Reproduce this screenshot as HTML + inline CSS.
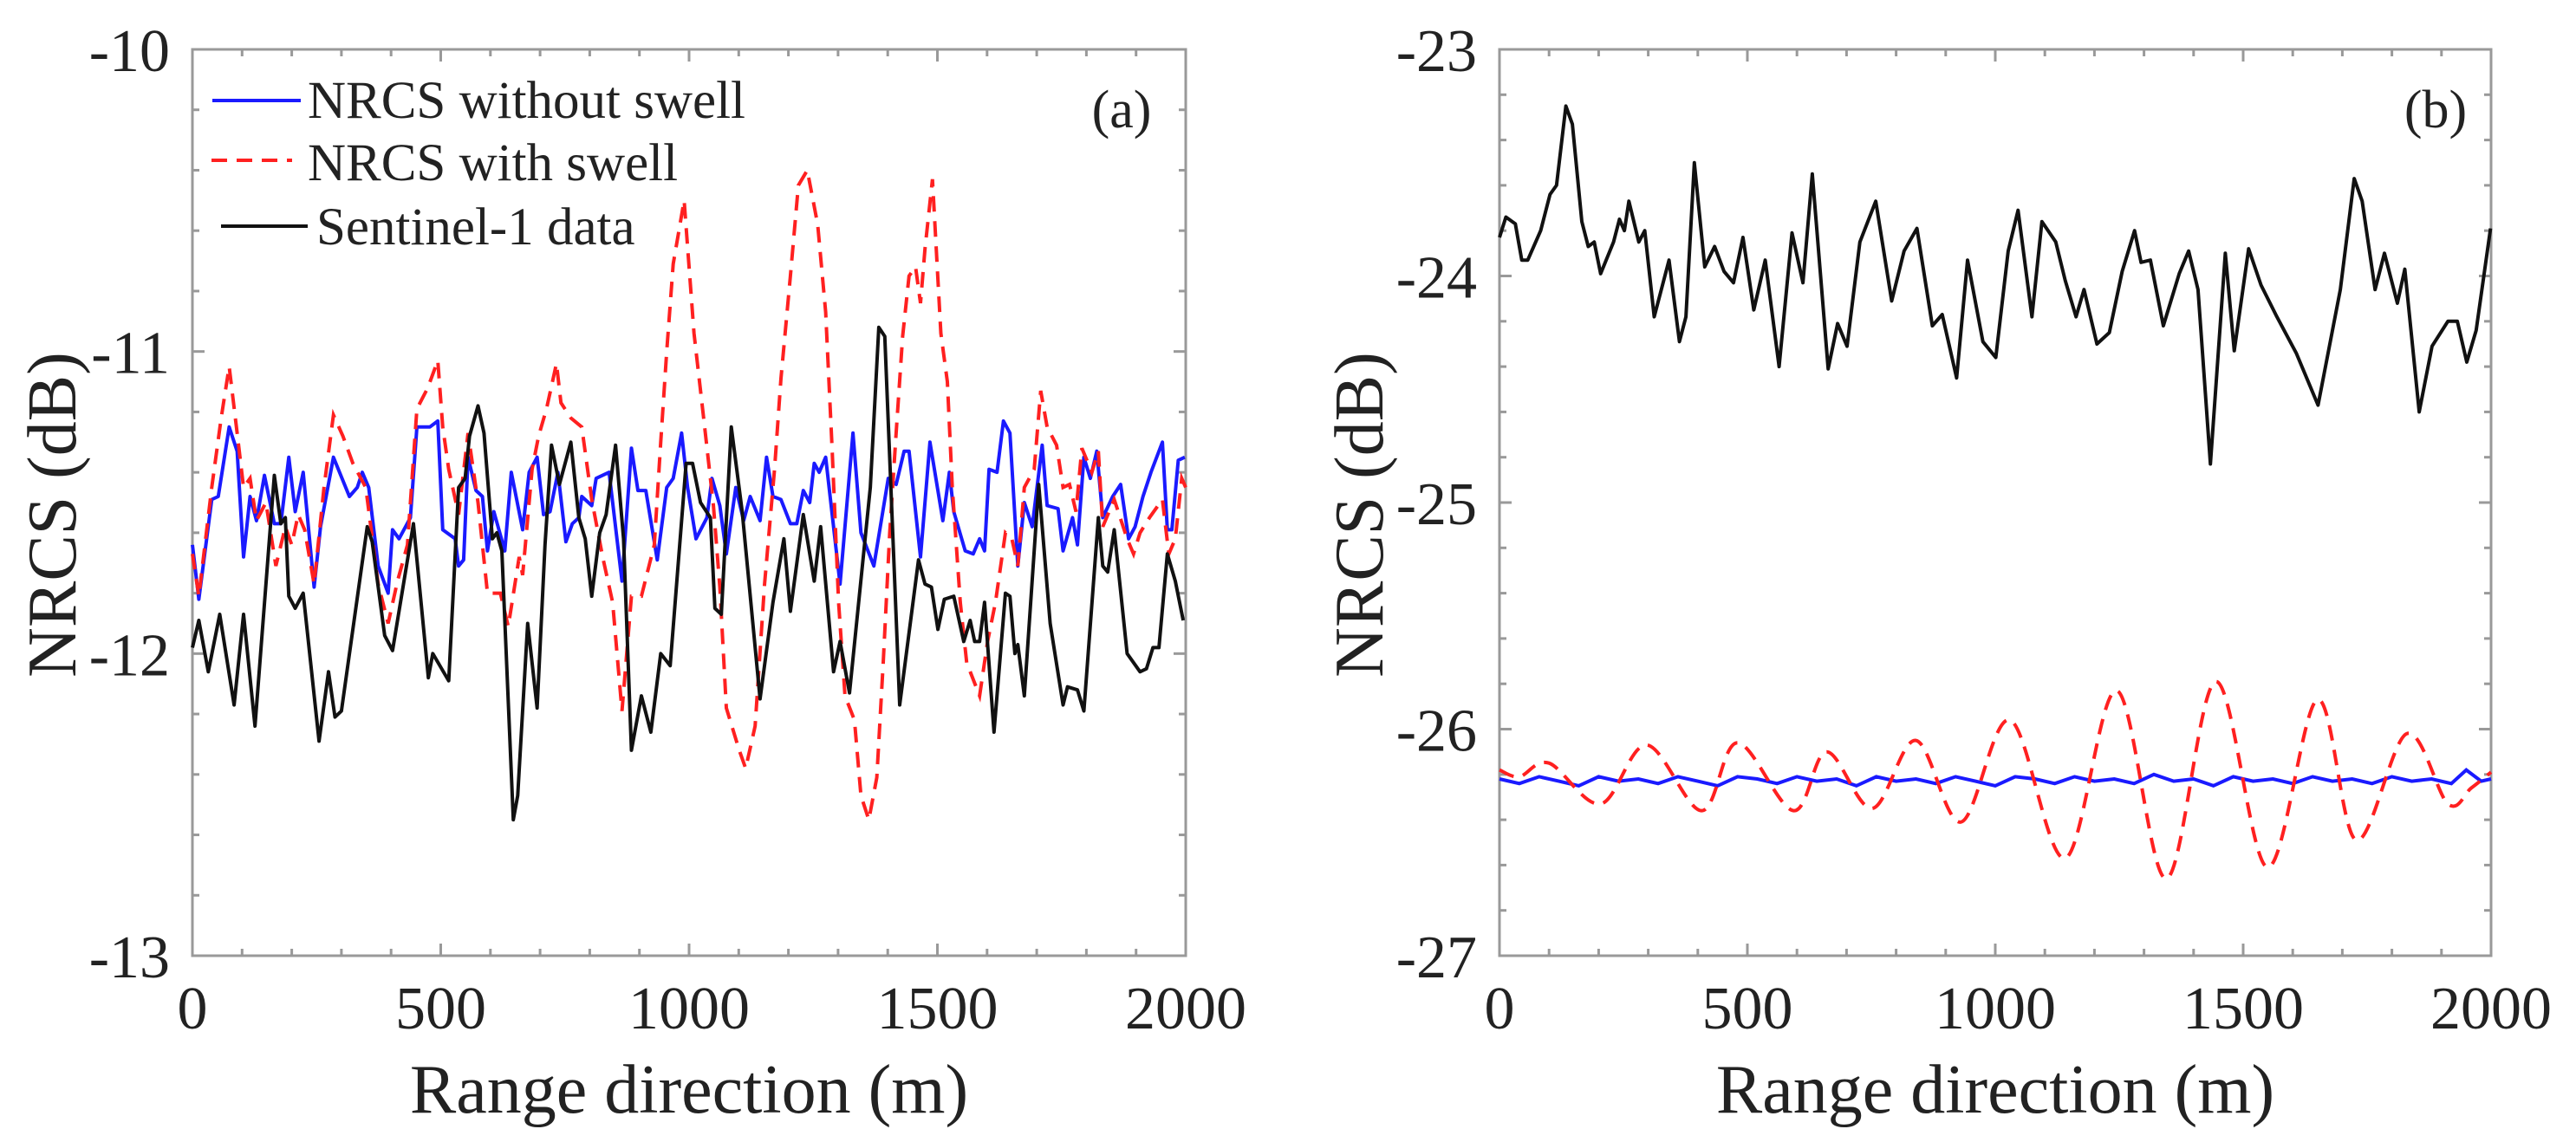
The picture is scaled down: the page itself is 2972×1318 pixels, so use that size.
<!DOCTYPE html>
<html><head><meta charset="utf-8">
<style>
html,body{margin:0;padding:0;background:#fff;}
svg{display:block;}
text{font-family:"Liberation Serif",serif;fill:#222;}
</style></head>
<body>
<svg id="fig" width="2972" height="1318" viewBox="0 0 2972 1318" xmlns="http://www.w3.org/2000/svg">
<g id="panelA"></g>
<g id="panelB"></g>
</svg>
<script>
// ---------- Panel (a) data ----------
const aBlueX=[0,13,39,52,74,90,103,116,129,145,165,178,194,207,223,245,258,284,316,332,342,355,374,394,403,416,439,452,458,478,494,504,529,536,546,555,571,584,594,607,629,642,665,678,694,707,720,736,752,765,778,784,804,813,839,865,884,897,913,936,955,968,985,997,1014,1036,1046,1062,1075,1094,1110,1123,1143,1156,1169,1185,1204,1217,1230,1243,1252,1262,1275,1304,1330,1346,1372,1401,1417,1433,1443,1466,1485,1511,1524,1533,1556,1572,1585,1595,1604,1620,1633,1646,1662,1675,1691,1711,1721,1743,1753,1772,1782,1795,1808,1821,1833,1853,1869,1885,1898,1914,1930,1953,1963,1972,1985,1998];
const aBlueY=[-11.64,-11.82,-11.49,-11.48,-11.25,-11.33,-11.68,-11.48,-11.56,-11.41,-11.57,-11.57,-11.35,-11.53,-11.40,-11.78,-11.58,-11.35,-11.48,-11.45,-11.40,-11.45,-11.71,-11.80,-11.59,-11.62,-11.55,-11.25,-11.25,-11.25,-11.23,-11.59,-11.62,-11.71,-11.69,-11.35,-11.46,-11.48,-11.66,-11.53,-11.66,-11.40,-11.59,-11.40,-11.35,-11.54,-11.53,-11.40,-11.63,-11.57,-11.55,-11.48,-11.51,-11.42,-11.40,-11.76,-11.32,-11.46,-11.46,-11.69,-11.45,-11.42,-11.27,-11.45,-11.62,-11.55,-11.42,-11.51,-11.67,-11.45,-11.56,-11.48,-11.56,-11.35,-11.48,-11.49,-11.57,-11.57,-11.46,-11.50,-11.37,-11.40,-11.35,-11.77,-11.27,-11.60,-11.71,-11.42,-11.44,-11.33,-11.33,-11.68,-11.30,-11.56,-11.40,-11.53,-11.66,-11.67,-11.62,-11.66,-11.39,-11.40,-11.23,-11.27,-11.71,-11.50,-11.58,-11.31,-11.51,-11.52,-11.66,-11.55,-11.64,-11.35,-11.42,-11.33,-11.55,-11.48,-11.44,-11.62,-11.58,-11.48,-11.40,-11.30,-11.59,-11.59,-11.36,-11.35];
const aRedX=[0,13,39,58,74,90,103,116,129,148,168,187,200,213,226,245,265,284,303,323,349,374,394,413,433,452,474,494,504,516,536,555,575,594,620,636,658,665,684,697,713,733,742,762,784,804,826,846,865,884,904,930,943,955,968,990,1010,1030,1049,1062,1075,1101,1114,1133,1152,1172,1185,1204,1220,1238,1259,1275,1288,1301,1314,1333,1346,1362,1378,1391,1404,1417,1430,1443,1456,1466,1475,1490,1507,1520,1530,1546,1559,1585,1601,1617,1637,1650,1662,1675,1695,1708,1721,1740,1753,1766,1779,1791,1811,1824,1833,1856,1882,1895,1908,1927,1953,1966,1979,1992,2000];
const aRedY=[-11.67,-11.81,-11.45,-11.22,-11.05,-11.27,-11.45,-11.42,-11.56,-11.50,-11.71,-11.58,-11.64,-11.54,-11.59,-11.77,-11.45,-11.21,-11.28,-11.37,-11.45,-11.77,-11.90,-11.76,-11.64,-11.19,-11.12,-11.03,-11.25,-11.39,-11.54,-11.27,-11.50,-11.80,-11.80,-11.91,-11.68,-11.74,-11.39,-11.28,-11.19,-11.04,-11.17,-11.22,-11.25,-11.49,-11.68,-11.83,-12.19,-11.81,-11.81,-11.64,-11.30,-11.00,-10.71,-10.50,-10.94,-11.23,-11.51,-11.78,-12.18,-12.32,-12.38,-12.24,-11.77,-11.39,-11.09,-10.75,-10.45,-10.40,-10.58,-10.87,-11.32,-11.83,-12.14,-12.22,-12.47,-12.55,-12.41,-12.03,-11.60,-11.27,-10.95,-10.75,-10.72,-10.84,-10.66,-10.43,-10.94,-11.10,-11.45,-11.83,-12.03,-12.14,-11.96,-11.83,-11.60,-11.62,-11.71,-11.45,-11.39,-11.13,-11.25,-11.31,-11.45,-11.44,-11.53,-11.32,-11.40,-11.33,-11.58,-11.49,-11.62,-11.67,-11.60,-11.55,-11.49,-11.67,-11.62,-11.42,-11.45];
const aBlackX=[0,13,32,55,84,103,126,165,178,187,194,207,223,255,274,287,300,352,362,387,403,445,475,484,516,536,549,558,575,587,604,613,623,646,655,675,694,710,723,739,762,778,791,804,820,833,852,868,884,904,923,943,962,994,1007,1023,1043,1052,1065,1085,1107,1143,1169,1191,1204,1230,1252,1265,1291,1304,1323,1365,1382,1394,1424,1462,1475,1488,1501,1514,1533,1553,1566,1575,1585,1595,1614,1637,1646,1656,1662,1675,1704,1727,1753,1762,1782,1795,1824,1833,1843,1856,1882,1908,1921,1934,1946,1963,1979,1995];
const aBlackY=[-11.98,-11.89,-12.06,-11.87,-12.17,-11.87,-12.24,-11.41,-11.57,-11.55,-11.81,-11.85,-11.80,-12.29,-12.06,-12.21,-12.19,-11.58,-11.63,-11.94,-11.99,-11.57,-12.08,-12.00,-12.09,-11.45,-11.42,-11.28,-11.18,-11.27,-11.62,-11.60,-11.66,-12.55,-12.47,-11.90,-12.18,-11.64,-11.31,-11.44,-11.30,-11.55,-11.62,-11.81,-11.60,-11.54,-11.31,-11.62,-12.32,-12.14,-12.26,-12.00,-12.04,-11.37,-11.37,-11.50,-11.55,-11.85,-11.87,-11.25,-11.53,-12.15,-11.83,-11.62,-11.86,-11.54,-11.76,-11.58,-12.06,-11.96,-12.13,-11.45,-10.92,-10.95,-12.17,-11.69,-11.77,-11.78,-11.92,-11.82,-11.81,-11.96,-11.89,-11.96,-11.96,-11.83,-12.26,-11.80,-11.81,-12.00,-11.97,-12.14,-11.44,-11.90,-12.17,-12.11,-12.12,-12.19,-11.55,-11.71,-11.73,-11.59,-12.00,-12.06,-12.05,-11.98,-11.98,-11.67,-11.76,-11.89];

// ---------- Panel (b) data ----------
const bBlackX=[0,13,32,45,57,83,102,115,134,147,166,179,191,204,230,242,252,261,281,293,312,342,363,376,393,414,434,453,472,491,513,536,564,590,612,631,663,682,701,727,759,791,816,842,873,893,922,944,975,1001,1026,1046,1074,1094,1122,1141,1163,1179,1205,1230,1256,1281,1294,1313,1339,1371,1390,1409,1434,1464,1482,1511,1536,1568,1607,1651,1696,1724,1740,1766,1785,1811,1826,1855,1881,1913,1932,1951,1970,1999];
const bBlackY=[-23.83,-23.74,-23.77,-23.93,-23.93,-23.80,-23.64,-23.60,-23.25,-23.33,-23.76,-23.87,-23.85,-23.99,-23.85,-23.75,-23.80,-23.67,-23.85,-23.80,-24.18,-23.93,-24.29,-24.18,-23.50,-23.96,-23.87,-23.98,-24.03,-23.83,-24.15,-23.93,-24.40,-23.81,-24.03,-23.55,-24.41,-24.21,-24.31,-23.85,-23.67,-24.11,-23.89,-23.79,-24.22,-24.17,-24.45,-23.93,-24.29,-24.36,-23.89,-23.71,-24.18,-23.76,-23.85,-24.02,-24.18,-24.06,-24.30,-24.25,-23.98,-23.80,-23.94,-23.93,-24.22,-23.99,-23.89,-24.06,-24.83,-23.90,-24.33,-23.88,-24.04,-24.18,-24.34,-24.57,-24.06,-23.57,-23.67,-24.06,-23.90,-24.12,-23.97,-24.60,-24.31,-24.20,-24.20,-24.38,-24.24,-23.79];
const bRedX=[0,40,100,204,297,408,480,593,660,752,840,931,1030,1141,1245,1345,1445,1549,1650,1728,1830,1913,1960,2000];
const bRedY=[-26.18,-26.21,-26.15,-26.33,-26.07,-26.36,-26.06,-26.36,-26.10,-26.35,-26.05,-26.41,-25.96,-26.57,-25.83,-26.66,-25.79,-26.61,-25.87,-26.49,-26.02,-26.33,-26.26,-26.19];
const bBlueX=[0,40,80,120,160,200,240,280,320,360,400,440,480,520,560,600,640,680,720,760,800,840,880,920,960,1000,1040,1080,1120,1160,1200,1240,1280,1320,1360,1400,1440,1480,1520,1560,1600,1640,1680,1720,1760,1800,1840,1880,1920,1950,1980,2000];
const bBlueY=[-26.22,-26.24,-26.21,-26.23,-26.25,-26.21,-26.23,-26.22,-26.24,-26.21,-26.23,-26.25,-26.21,-26.22,-26.24,-26.21,-26.23,-26.22,-26.25,-26.21,-26.23,-26.22,-26.24,-26.21,-26.23,-26.25,-26.21,-26.22,-26.24,-26.21,-26.23,-26.22,-26.24,-26.20,-26.23,-26.22,-26.25,-26.21,-26.23,-26.22,-26.24,-26.21,-26.23,-26.22,-26.24,-26.21,-26.23,-26.22,-26.24,-26.18,-26.23,-26.22];

const xTicks=[0,500,1000,1500,2000];
const aYTicks=[-10,-11,-12,-13];
const bYTicks=[-23,-24,-25,-26,-27];
const legendLabels=["NRCS without swell","NRCS with swell","Sentinel-1 data"];

const NS="http://www.w3.org/2000/svg";
function mk(parent,tag,attrs){const e=document.createElementNS(NS,tag);for(const k in attrs)e.setAttribute(k,attrs[k]);parent.appendChild(e);return e;}

function makeAxes(g,L,R,T,B,ymin,ymax,yTicks){
  const sx=v=>L+(v-0)/(2000-0)*(R-L);
  const sy=v=>B-(v-ymin)/(ymax-ymin)*(B-T);
  const axisG=mk(g,'g',{});
  
  
  for(let m=0;m<=2000;m+=100){
    const len=(m%500===0)?14:8;const x=sx(m);
    const t1=mk(axisG,'line',{x1:x,x2:x,y1:B,y2:B-len,stroke:'#999','stroke-width':3});
    
    
    const t2=mk(axisG,'line',{x1:x,x2:x,y1:T,y2:T+len,stroke:'#999','stroke-width':3});
    
    
  }
  for(let k=0;k<=Math.round((ymax-ymin)/0.2);k++){
    const v=ymin+k*0.2;const y=sy(v);
    const major=(k%5===0);const len=major?14:8;
    const t1=mk(axisG,'line',{x1:L,x2:L+len,y1:y,y2:y,stroke:'#999','stroke-width':3});
    
    
    const t2=mk(axisG,'line',{x1:R,x2:R-len,y1:y,y2:y,stroke:'#999','stroke-width':3});
    
    
  }
  const box=mk(axisG,'rect',{x:L,y:T,width:R-L,height:B-T,fill:'none',stroke:'#999','stroke-width':3});
  
  
  xTicks.forEach(v=>{
    const t=mk(axisG,'text',{x:sx(v),y:1187,'font-size':70,'text-anchor':'middle'});
    t.textContent=String(v);
    
    
  });
  yTicks.forEach(v=>{
    const t=mk(axisG,'text',{x:L-26,y:sy(v)+25,'font-size':70,'text-anchor':'end'});
    t.textContent=String(v);
    
    
  });
  const xt=mk(axisG,'text',{x:(L+R)/2,y:1284,'font-size':80,'text-anchor':'middle'});
  xt.textContent='Range direction (m)';
  
  
  const yx=L-135,yy=(T+B)/2+14;
  const yt=mk(axisG,'text',{x:yx,y:yy,'font-size':80,'text-anchor':'middle',transform:`rotate(-90 ${yx} ${yy})`});
  yt.textContent='NRCS (dB)';
  
  
  return {sx,sy};
}

function linePath(xs,ys,sx,sy){
  return xs.map((x,i)=>(i?'L':'M')+sx(x).toFixed(1)+','+sy(ys[i]).toFixed(1)).join('');
}
function smoothPath(xs,ys,sx,sy){
  const p=xs.map((x,i)=>[sx(x),sy(ys[i])]);
  let d='M'+p[0][0].toFixed(1)+','+p[0][1].toFixed(1);
  for(let i=0;i<p.length-1;i++){
    const p0=p[Math.max(0,i-1)],p1=p[i],p2=p[i+1],p3=p[Math.min(p.length-1,i+2)];
    const c1=[p1[0]+(p2[0]-p0[0])/6,p1[1]+(p2[1]-p0[1])/6];
    const c2=[p2[0]-(p3[0]-p1[0])/6,p2[1]-(p3[1]-p1[1])/6];
    d+=`C${c1[0].toFixed(1)},${c1[1].toFixed(1)} ${c2[0].toFixed(1)},${c2[1].toFixed(1)} ${p2[0].toFixed(1)},${p2[1].toFixed(1)}`;
  }
  return d;
}

// Panel A
const gA=document.getElementById('panelA');
const A=makeAxes(gA,222,1368,57,1103,-13,-10,aYTicks);
const pab=mk(gA,'path',{d:linePath(aBlueX,aBlueY,A.sx,A.sy),fill:'none',stroke:'#1a1aff','stroke-width':4,'stroke-linejoin':'round'});


const par=mk(gA,'path',{d:linePath(aRedX,aRedY,A.sx,A.sy),fill:'none',stroke:'#ff2020','stroke-width':4,'stroke-dasharray':'18 11'});


const pak=mk(gA,'path',{d:linePath(aBlackX,aBlackY,A.sx,A.sy),fill:'none',stroke:'#111','stroke-width':4,'stroke-linejoin':'round'});


const la=mk(gA,'text',{x:1294,y:147,'font-size':62,'text-anchor':'middle'});
la.textContent='(a)';



// Legend
const leg=mk(gA,'g',{});


const legSpec=[[245,347,116,355,136,'#1a1aff',null],[244,337,185,355,208,'#ff2020','18 11'],[255,355,261,365,282,'#111',null]];
legSpec.forEach((s,i)=>{
  const ln=mk(leg,'line',{x1:s[0],x2:s[1],y1:s[2],y2:s[2],stroke:s[5],'stroke-width':4});
  if(s[6])ln.setAttribute('stroke-dasharray',s[6]);
  
  
  const t=mk(leg,'text',{x:s[3],y:s[4],'font-size':61});
  t.textContent=legendLabels[i];
  
  
});

// Panel B
const gB=document.getElementById('panelB');
const B=makeAxes(gB,1730,2874,57,1103,-27,-23,bYTicks);
const pbb=mk(gB,'path',{d:linePath(bBlueX,bBlueY,B.sx,B.sy),fill:'none',stroke:'#1a1aff','stroke-width':4});


const pbr=mk(gB,'path',{d:smoothPath(bRedX,bRedY,B.sx,B.sy),fill:'none',stroke:'#ff2020','stroke-width':4,'stroke-dasharray':'18 11'});


const pbk=mk(gB,'path',{d:linePath(bBlackX,bBlackY,B.sx,B.sy),fill:'none',stroke:'#111','stroke-width':4,'stroke-linejoin':'round'});


const lb=mk(gB,'text',{x:2810,y:147,'font-size':62,'text-anchor':'middle'});
lb.textContent='(b)';


</script>
</body></html>
